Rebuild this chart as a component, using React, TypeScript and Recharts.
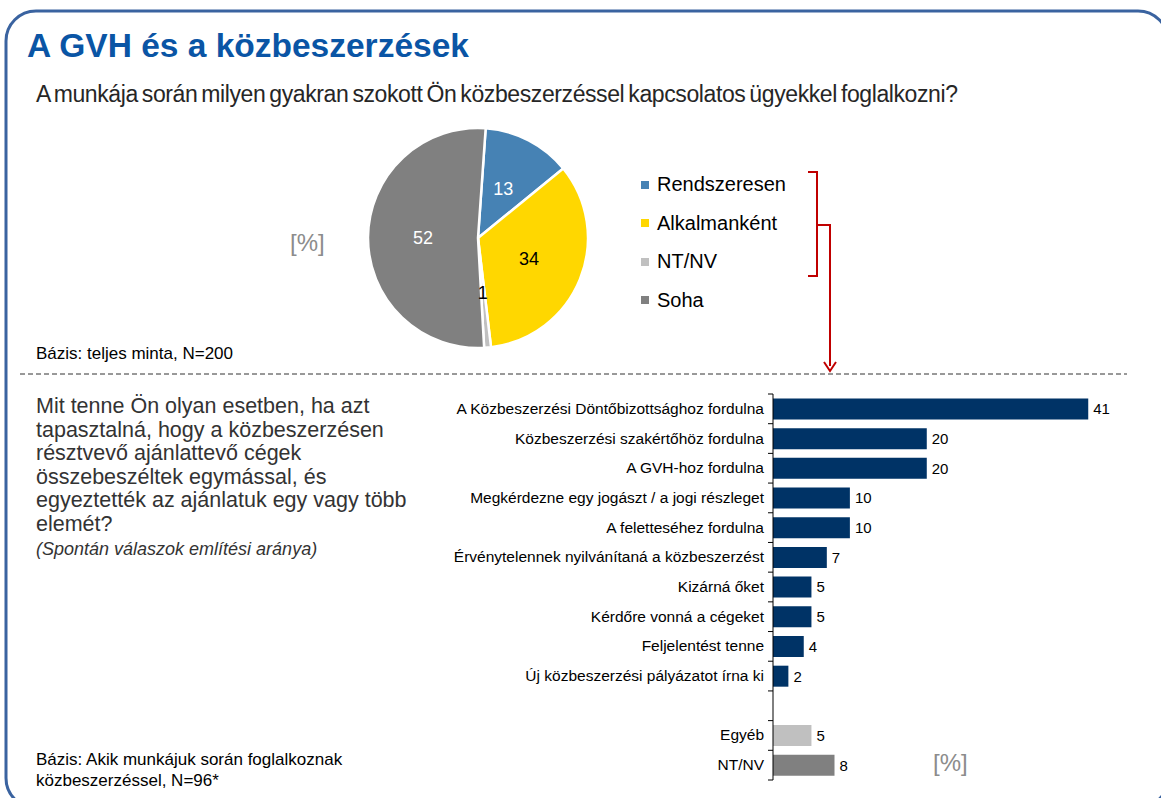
import { PieChart, Pie, Cell, BarChart, Bar, XAxis, YAxis, LabelList } from "recharts";

// pie: A munkája során milyen gyakran...
const freqNames = ["Rendszeresen", "Alkalmanként", "NT/NV", "Soha"];
const freqValues = [13, 34, 1, 52];
const freqColors = ["#4682b4", "#ffd700", "#c0c0c0", "#808080"];
const freqLabelColors = ["#ffffff", "#000000", "#000000", "#ffffff"];

// bars: Mit tenne Ön...
const actionNames = [
  "A Közbeszerzési Döntőbizottsághoz fordulna",
  "Közbeszerzési szakértőhöz fordulna",
  "A GVH-hoz fordulna",
  "Megkérdezne egy jogászt / a jogi részleget",
  "A feletteséhez fordulna",
  "Érvénytelennek nyilvánítaná a közbeszerzést",
  "Kizárná őket",
  "Kérdőre vonná a cégeket",
  "Feljelentést tenne",
  "Új közbeszerzési  pályázatot írna  ki",
  "",
  "Egyéb",
  "NT/NV",
];
const actionValues = [41, 20, 20, 10, 10, 7, 5, 5, 4, 2, null, 5, 8];
const actionColors = [
  "#003366", "#003366", "#003366", "#003366", "#003366", "#003366",
  "#003366", "#003366", "#003366", "#003366", "#003366", "#c0c0c0", "#808080",
];

const pieData = freqNames.map((name, i) => ({ name, value: freqValues[i] }));
const barData = actionNames.map((name, i) => ({ name, value: actionValues[i] }));

const FONT = "'Liberation Sans', Arial, sans-serif";
const PLOT_H = 386;
const BAND = PLOT_H / actionNames.length;
const RAD = Math.PI / 180;

function PieLabel(props: any) {
  const { cx, cy, midAngle, outerRadius, value, index } = props;
  const r = outerRadius * 0.5;
  const x = cx + r * Math.cos(-midAngle * RAD);
  const y = cy + r * Math.sin(-midAngle * RAD);
  return (
    <text x={x} y={y} dy={6} textAnchor="middle" fontSize={18} fontFamily={FONT} fill={freqLabelColors[index]}>
      {value}
    </text>
  );
}

function CatTick(props: any) {
  const { x, y, payload, index } = props;
  return (
    <g>
      <text x={x - 9} y={y} dy={5} textAnchor="end" fontSize={15.5} fontFamily={FONT} fill="#000">
        {payload.value}
      </text>
      <line x1={x - 5} x2={x} y1={y - BAND / 2} y2={y - BAND / 2} stroke="#000" />
      {index === actionNames.length - 1 && (
        <line x1={x - 5} x2={x} y1={y + BAND / 2} y2={y + BAND / 2} stroke="#000" />
      )}
    </g>
  );
}

const txt: React.CSSProperties = { position: "absolute", margin: 0, fontFamily: FONT, whiteSpace: "nowrap" };

export default function App() {
  return (
    <div style={{ position: "absolute", left: 0, top: 0, width: 1161, height: 798, background: "#fff", overflow: "hidden" }}>
      <svg width={1161} height={798} style={{ position: "absolute", left: 0, top: 0 }}>
        <rect x={6} y={11} width={1162} height={797} rx={30} fill="none" stroke="#3a63a0" strokeWidth={3} />
        <line x1={20} x2={1127} y1={374} y2={374} stroke="#333" strokeDasharray="5 3" />
        <path d="M808 172 H817 V276 H808 M817 225 H830 V366" fill="none" stroke="#c00000" strokeWidth={2} />
        <path d="M824 362 L830 371 L836 362" fill="none" stroke="#c00000" strokeWidth={2} />
      </svg>

      <div style={{ ...txt, left: 27, top: 26.5, fontSize: 33.5, fontWeight: "bold", color: "#0a55a5" }}>
        A GVH és a közbeszerzések
      </div>
      <div style={{ ...txt, left: 36, top: 81, fontSize: 23, letterSpacing: -0.4, wordSpacing: -2, color: "#262626" }}>
        A munkája során milyen gyakran szokott Ön közbeszerzéssel kapcsolatos ügyekkel foglalkozni?
      </div>

      <div style={{ ...txt, left: 290, top: 229, fontSize: 24, color: "#8c8c8c" }}>[%]</div>

      <div style={{ position: "absolute", left: 358, top: 118 }}>
        <PieChart width={240} height={240} margin={{ top: 0, right: 0, bottom: 0, left: 0 }}>
          <Pie
            data={pieData}
            dataKey="value"
            cx={120}
            cy={120}
            outerRadius={110}
            startAngle={86}
            endAngle={-274}
            stroke="#fff"
            strokeWidth={2.5}
            label={PieLabel}
            labelLine={false}
            isAnimationActive={false}
          >
            {pieData.map((d, i) => (
              <Cell key={d.name} fill={freqColors[i]} />
            ))}
          </Pie>
        </PieChart>
      </div>

      {freqNames.map((name, i) => (
        <div key={name} style={{ ...txt, left: 641, top: 173 + i * 38.5, fontSize: 20, color: "#000", display: "flex", alignItems: "center" }}>
          <span style={{ display: "inline-block", width: 8, height: 8, background: freqColors[i], marginRight: 8 }} />
          {name}
        </div>
      ))}

      <div style={{ ...txt, left: 36, top: 344, fontSize: 17, color: "#000" }}>Bázis: teljes minta, N=200</div>

      <div style={{ ...txt, left: 36, top: 395, fontSize: 21.5, lineHeight: "23.5px", color: "#333" }}>
        Mit tenne Ön olyan esetben, ha azt
        <br />
        tapasztalná, hogy a közbeszerzésen
        <br />
        résztvevő ajánlattevő cégek
        <br />
        összebeszéltek egymással, és
        <br />
        egyeztették az ajánlatuk egy vagy több
        <br />
        elemét?
      </div>
      <div style={{ ...txt, left: 36, top: 539, fontSize: 18, fontStyle: "italic", color: "#333" }}>
        (Spontán válaszok említési aránya)
      </div>

      <div style={{ position: "absolute", left: 440, top: 384 }}>
        <BarChart
          width={700}
          height={410}
          layout="vertical"
          data={barData}
          margin={{ top: 10, right: 21, bottom: 14, left: 0 }}
          barCategoryGap="15%"
        >
          <XAxis type="number" domain={[0, 45]} hide />
          <YAxis
            type="category"
            dataKey="name"
            width={333}
            interval={0}
            tickLine={false}
            tickSize={0}
            tickMargin={0}
            axisLine={{ stroke: "#000" }}
            tick={CatTick}
          />
          <Bar dataKey="value" isAnimationActive={false}>
            {barData.map((d, i) => (
              <Cell key={i} fill={actionColors[i]} />
            ))}
            <LabelList
              dataKey="value"
              position="right"
              offset={5}
              fontSize={15}
              fontFamily={FONT}
              fill="#000"
              formatter={(v: any) => (v == null ? "" : v)}
            />
          </Bar>
        </BarChart>
      </div>

      <div style={{ ...txt, left: 933, top: 749, fontSize: 24, color: "#8c8c8c" }}>[%]</div>

      <div style={{ ...txt, left: 36, top: 749, fontSize: 17, lineHeight: "21px", color: "#000" }}>
        Bázis: Akik munkájuk során foglalkoznak
        <br />
        közbeszerzéssel, N=96*
      </div>
    </div>
  );
}
